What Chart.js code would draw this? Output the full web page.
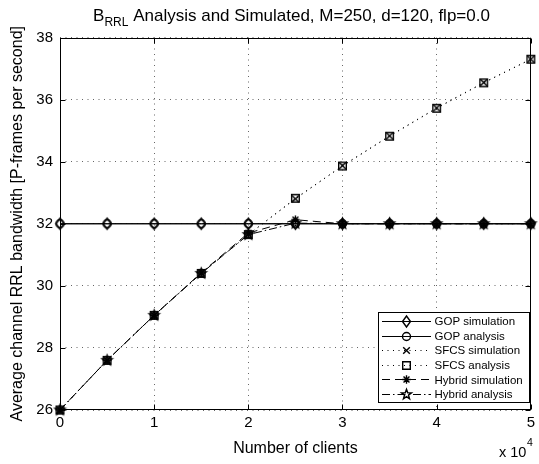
<!DOCTYPE html>
<html>
<head>
<meta charset="utf-8">
<script src="https://cdn.jsdelivr.net/npm/chart.js@4/dist/chart.umd.min.js"></script>
<style>
  html, body { margin: 0; padding: 0; background: #fff; }
  canvas { display: block; }
</style>
</head>
<body>
<canvas id="chart" width="539" height="464"></canvas>
<script>
// Number of clients (x axis shown in units of 10^4)
const clients = [0, 5000, 10000, 15000, 20000, 25000, 30000, 35000, 40000, 45000, 50000];

// Average channel RRL bandwidth [P-frames per second]
const gopSimulation    = [32, 32, 32, 32, 32, 32, 32, 32, 32, 32, 32];
const gopAnalysis      = [32, 32, 32, 32, 32, 32, 32, 32, 32, 32, 32];
const sfcsSimulation   = [26, 27.6, 29.05, 30.42, 31.65, 32.8, 33.87, 34.83, 35.73, 36.55, 37.3];
const sfcsAnalysis     = [26, 27.6, 29.05, 30.4, 31.65, 32.82, 33.86, 34.82, 35.72, 36.54, 37.3];
const hybridSimulation = [26, 27.6, 29.05, 30.42, 31.7, 32.13, 32.0, 32.0, 32.0, 32.0, 32.0];
const hybridAnalysis   = [26, 27.6, 29.05, 30.4, 31.65, 32.02, 32.0, 32.0, 32.0, 32.0, 32.0];

const seriesNames = ['GOP simulation', 'GOP analysis', 'SFCS simulation', 'SFCS analysis', 'Hybrid simulation', 'Hybrid analysis'];
const xTickValues = [0, 10000, 20000, 30000, 40000, 50000];
const yTickValues = [26, 28, 30, 32, 34, 36, 38];

const FONT = '"Liberation Sans", Arial, Helvetica, sans-serif';

// Hand-drawn marker glyphs (open, black outline)
function makeMarker(kind) {
  const s = 15, c = s / 2;
  const cv = document.createElement('canvas');
  cv.width = s; cv.height = s;
  const g = cv.getContext('2d');
  g.strokeStyle = '#000';
  g.lineWidth = 1.4;
  g.beginPath();
  if (kind === 'diamond') {
    g.moveTo(c, c - 5.5); g.lineTo(c + 4, c); g.lineTo(c, c + 5.5); g.lineTo(c - 4, c); g.closePath();
  } else if (kind === 'circle') {
    g.arc(c, c, 4, 0, Math.PI * 2);
  } else if (kind === 'x') {
    g.moveTo(c - 3.3, c - 3.3); g.lineTo(c + 3.3, c + 3.3);
    g.moveTo(c + 3.3, c - 3.3); g.lineTo(c - 3.3, c + 3.3);
  } else if (kind === 'square') {
    g.rect(c - 3.8, c - 3.8, 7.6, 7.6);
  } else if (kind === 'asterisk') {
    const r = 4.2;
    for (let k = 0; k < 4; k++) {
      const a = k * Math.PI / 4;
      g.moveTo(c - r * Math.cos(a), c - r * Math.sin(a));
      g.lineTo(c + r * Math.cos(a), c + r * Math.sin(a));
    }
  } else if (kind === 'pentagram') {
    const ro = 5.2, ri = 2.1;
    for (let k = 0; k < 10; k++) {
      const a = -Math.PI / 2 + k * Math.PI / 5;
      const r = k % 2 === 0 ? ro : ri;
      const px = c + r * Math.cos(a), py = c + r * Math.sin(a);
      if (k === 0) g.moveTo(px, py); else g.lineTo(px, py);
    }
    g.closePath();
  }
  g.stroke();
  return cv;
}

const markers = {
  diamond: makeMarker('diamond'),
  circle: makeMarker('circle'),
  x: makeMarker('x'),
  square: makeMarker('square'),
  asterisk: makeMarker('asterisk'),
  pentagram: makeMarker('pentagram')
};

function series(label, values, marker, dash) {
  return {
    label: label,
    data: clients.map((c, i) => ({ x: c, y: values[i] })),
    borderColor: '#000',
    backgroundColor: '#000',
    borderWidth: 1,
    borderDash: dash,
    pointStyle: markers[marker],
    pointRadius: 5,
    pointHoverRadius: 5,
    tension: 0,
    fill: false,
    clip: false
  };
}

const datasets = [
  series(seriesNames[0], gopSimulation, 'diamond', []),
  series(seriesNames[1], gopAnalysis, 'circle', []),
  series(seriesNames[2], sfcsSimulation, 'x', [1, 4.5]),
  series(seriesNames[3], sfcsAnalysis, 'square', [1, 4.5]),
  series(seriesNames[4], hybridSimulation, 'asterisk', [8, 5]),
  series(seriesNames[5], hybridAnalysis, 'pentagram', [8, 3, 1.5, 3])
];

// Axes box, inward ticks, title, exponent label and legend
const matlabFrame = {
  id: 'matlabFrame',
  beforeDatasetsDraw(chart) {
    const ctx = chart.ctx;
    const a = chart.chartArea;
    const xs = chart.scales.x, ys = chart.scales.y;
    ctx.save();
    ctx.strokeStyle = '#000';
    ctx.lineWidth = 1;
    ctx.setLineDash([]);
    const L = Math.round(a.left) + 0.5, R = Math.round(a.right) - 0.5;
    const T = Math.round(a.top) + 0.5, B = Math.round(a.bottom) - 0.5;
    ctx.strokeRect(L, T, R - L, B - T);
    const tl = 5;
    ctx.beginPath();
    xTickValues.forEach(v => {
      const px = Math.round(xs.getPixelForValue(v)) + 0.5;
      ctx.moveTo(px, B); ctx.lineTo(px, B - tl);
      ctx.moveTo(px, T); ctx.lineTo(px, T + tl);
    });
    yTickValues.forEach(v => {
      const py = Math.round(ys.getPixelForValue(v)) + 0.5;
      ctx.moveTo(L, py); ctx.lineTo(L + tl, py);
      ctx.moveTo(R, py); ctx.lineTo(R - tl, py);
    });
    ctx.stroke();
    ctx.restore();
  },
  afterDraw(chart) {
    const ctx = chart.ctx;
    ctx.save();

    // title with subscript
    ctx.fillStyle = '#000';
    ctx.textBaseline = 'alphabetic';
    ctx.textAlign = 'left';
    const parts = [
      { t: 'B', size: 17, dy: 0 },
      { t: 'RRL', size: 12, dy: 5 },
      { t: ' Analysis and Simulated, M=250, d=120, flp=0.0', size: 17, dy: 0 }
    ];
    let total = 0;
    parts.forEach(p => { ctx.font = p.size + 'px ' + FONT; p.w = ctx.measureText(p.t).width; total += p.w; });
    let tx = 291.5 - total / 2;
    parts.forEach(p => {
      ctx.font = p.size + 'px ' + FONT;
      ctx.fillText(p.t, tx, 21 + p.dy);
      tx += p.w;
    });

    // exponent label for the x axis
    ctx.font = '14.5px ' + FONT;
    ctx.fillText('x 10', 499, 457);
    const w10 = ctx.measureText('x 10').width;
    ctx.font = '10.5px ' + FONT;
    ctx.fillText('4', 499 + w10 + 0.5, 446);

    // legend
    const lx = 378.5, ly = 312.5, lw = 151, lh = 90;
    ctx.fillStyle = '#fff';
    ctx.fillRect(lx, ly, lw, lh);
    ctx.strokeStyle = '#000';
    ctx.lineWidth = 1;
    ctx.strokeRect(lx, ly, lw, lh);
    chart.data.datasets.forEach((ds, i) => {
      const ry = 321 + i * 14.6;
      ctx.save();
      ctx.strokeStyle = '#000';
      ctx.lineWidth = 1;
      ctx.setLineDash(ds.borderDash || []);
      ctx.beginPath();
      ctx.moveTo(382, Math.round(ry) + 0.5);
      ctx.lineTo(431, Math.round(ry) + 0.5);
      ctx.stroke();
      ctx.restore();
      const m = ds.pointStyle;
      ctx.drawImage(m, 406.5 - m.width / 2, Math.round(ry) + 0.5 - m.height / 2);
      ctx.fillStyle = '#000';
      ctx.font = '11.5px ' + FONT;
      ctx.textBaseline = 'middle';
      ctx.fillText(ds.label, 434.5, ry + 1);
      ctx.textBaseline = 'alphabetic';
    });

    ctx.restore();
  }
};

new Chart(document.getElementById('chart'), {
  type: 'line',
  data: { datasets: datasets },
  options: {
    responsive: false,
    animation: false,
    devicePixelRatio: 1,
    layout: { padding: { top: 37.5, right: 4.5, left: 0, bottom: 0 } },
    plugins: {
      legend: { display: false },
      title: { display: false },
      tooltip: { enabled: false }
    },
    scales: {
      x: {
        type: 'linear',
        min: 0,
        max: 50000,
        afterBuildTicks: s => { s.ticks = xTickValues.map(v => ({ value: v })); },
        ticks: {
          callback: v => String(v / 10000),
          color: '#000',
          font: { family: FONT, size: 15 },
          padding: 4,
          maxRotation: 0
        },
        grid: { color: '#666', lineWidth: 1, drawTicks: false },
        border: { display: false, dash: [1, 4.5] },
        title: {
          display: true,
          text: 'Number of clients',
          color: '#000',
          font: { family: FONT, size: 16 },
          padding: { top: 0, bottom: 5.4 }
        },
        afterFit: s => { s.height = 54; }
      },
      y: {
        type: 'linear',
        min: 26,
        max: 38,
        afterBuildTicks: s => { s.ticks = yTickValues.map(v => ({ value: v })); },
        ticks: {
          color: '#000',
          font: { family: FONT, size: 15 },
          padding: 7
        },
        grid: { color: '#666', lineWidth: 1, drawTicks: false },
        border: { display: false, dash: [1, 4.5] },
        title: {
          display: true,
          text: 'Average channel RRL bandwidth [P-frames per second]',
          color: '#000',
          font: { family: FONT, size: 16 },
          padding: { top: 8, bottom: 0 }
        },
        afterFit: s => { s.width = 60; }
      }
    }
  },
  plugins: [matlabFrame]
});
</script>
</body>
</html>
